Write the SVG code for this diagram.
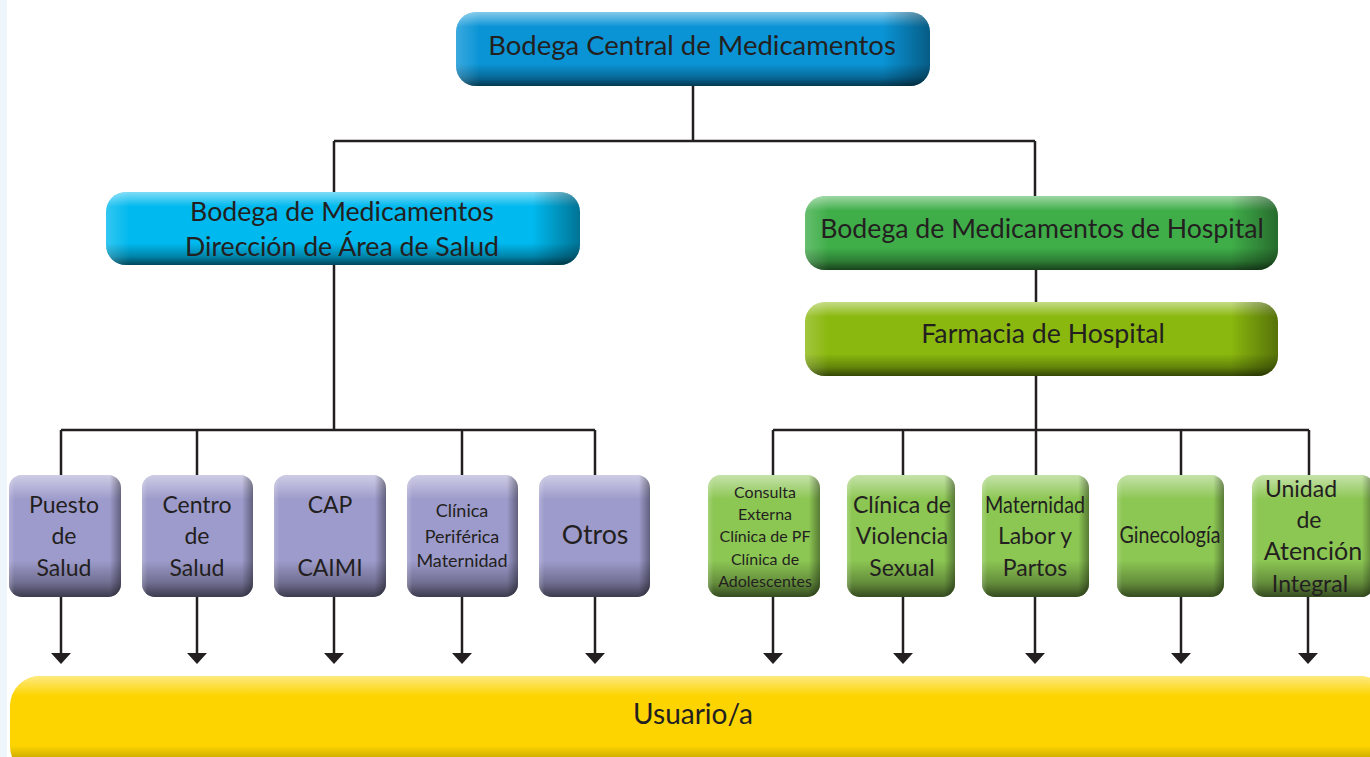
<svg xmlns="http://www.w3.org/2000/svg" width="1370" height="757" viewBox="0 0 1370 757">
<defs>
<style>
text{font-family:Lato,"Open Sans","Liberation Sans",sans-serif;fill:#231f20;text-anchor:middle}
.big{font-size:26.7px}
.mid{font-size:23px}
.sm{font-size:18px}
.xs{font-size:16px}
.conn{stroke:#231f20;stroke-width:2.5;fill:none}
.sv{fill:url(#gV)}
.sh{fill:url(#gH)}
</style>
<linearGradient id="gV" x1="0" y1="0" x2="0" y2="1">
<stop offset="0" stop-color="#fff" stop-opacity="0.5"/>
<stop offset="0.2" stop-color="#fff" stop-opacity="0"/>
<stop offset="0.7" stop-color="#000" stop-opacity="0"/>
<stop offset="0.88" stop-color="#000" stop-opacity="0.28"/>
<stop offset="1" stop-color="#000" stop-opacity="0.62"/>
</linearGradient>
<linearGradient id="gH" x1="0" y1="0" x2="1" y2="0">
<stop offset="0" stop-color="#fff" stop-opacity="0.2"/>
<stop offset="0.05" stop-color="#fff" stop-opacity="0"/>
<stop offset="0.9" stop-color="#000" stop-opacity="0"/>
<stop offset="1" stop-color="#000" stop-opacity="0.38"/>
</linearGradient>
<marker id="arr" markerUnits="userSpaceOnUse" markerWidth="11" markerHeight="20" refX="0" refY="10" orient="auto" viewBox="0 0 11 20">
<path d="M0,0 L11,10 L0,20 Z" fill="#231f20"/>
</marker>
</defs>
<rect width="1370" height="757" fill="#fff"/>
<rect width="7" height="757" fill="#eef6fc"/>

<g id="connectors">
<path class="conn" d="M693,86 V141 M334,141 H1035 M334,141 V192 M1035,141 V197"/>
<path class="conn" d="M334,265 V430 M61,430 H595 M61,430 V475 M197,430 V475 M462,430 V475 M595,430 V475"/>
<path class="conn" d="M1036,270 V302 M1036,376 V475 M773,430 H1309 M773,430 V475 M903,430 V475 M1181,430 V475 M1309,430 V475"/>
<g class="conn" marker-end="url(#arr)">
<path d="M61,597 V653"/>
<path d="M197,597 V653"/>
<path d="M334,597 V653"/>
<path d="M462,597 V653"/>
<path d="M595,597 V653"/>
<path d="M773,597 V653"/>
<path d="M903,597 V653"/>
<path d="M1035,597 V653"/>
<path d="M1181,597 V653"/>
<path d="M1308,597 V653"/>
</g>
</g>

<g id="n-central">
<rect x="456" y="12" width="474" height="74" rx="20" fill="#0a94d6"/>
<rect x="456" y="12" width="474" height="74" rx="20" class="sv"/>
<rect x="456" y="12" width="474" height="74" rx="20" class="sh"/>
<text style="font-size:27.5px" x="692" y="55">Bodega Central de Medicamentos</text>
</g>

<g id="n-das">
<rect x="106" y="192" width="474" height="73" rx="20" fill="#00b9ee"/>
<rect x="106" y="192" width="474" height="73" rx="20" class="sv"/>
<rect x="106" y="192" width="474" height="73" rx="20" class="sh"/>
<text class="big" x="342" y="221">Bodega de Medicamentos</text>
<text class="big" x="342" y="256">Dirección de Área de Salud</text>
</g>

<g id="n-bodhosp">
<rect x="805" y="196" width="473" height="74" rx="20" fill="#3fae49"/>
<rect x="805" y="196" width="473" height="74" rx="20" class="sv"/>
<rect x="805" y="196" width="473" height="74" rx="20" class="sh"/>
<text class="big" x="1042" y="238">Bodega de Medicamentos de Hospital</text>
</g>

<g id="n-farmacia">
<rect x="805" y="302" width="473" height="74" rx="20" fill="#8ab80e"/>
<rect x="805" y="302" width="473" height="74" rx="20" class="sv"/>
<rect x="805" y="302" width="473" height="74" rx="20" class="sh"/>
<text class="big" x="1043" y="343">Farmacia de Hospital</text>
</g>

<g id="n-puesto">
<rect x="9" y="475" width="112" height="122" rx="13" fill="#9d9bcb"/>
<rect x="9" y="475" width="112" height="122" rx="13" class="sv"/>
<rect x="9" y="475" width="112" height="122" rx="13" class="sh"/>
<text class="mid" x="64" y="513">Puesto</text>
<text class="mid" x="64" y="544">de</text>
<text class="mid" x="64" y="576">Salud</text>
</g>

<g id="n-centro">
<rect x="142" y="475" width="111" height="122" rx="13" fill="#9d9bcb"/>
<rect x="142" y="475" width="111" height="122" rx="13" class="sv"/>
<rect x="142" y="475" width="111" height="122" rx="13" class="sh"/>
<text class="mid" x="197" y="513">Centro</text>
<text class="mid" x="197" y="544">de</text>
<text class="mid" x="197" y="576">Salud</text>
</g>

<g id="n-cap">
<rect x="274" y="475" width="112" height="122" rx="13" fill="#9d9bcb"/>
<rect x="274" y="475" width="112" height="122" rx="13" class="sv"/>
<rect x="274" y="475" width="112" height="122" rx="13" class="sh"/>
<text class="mid" x="330" y="513">CAP</text>
<text class="mid" x="330" y="576">CAIMI</text>
</g>

<g id="n-clinica">
<rect x="407" y="475" width="111" height="122" rx="13" fill="#9d9bcb"/>
<rect x="407" y="475" width="111" height="122" rx="13" class="sv"/>
<rect x="407" y="475" width="111" height="122" rx="13" class="sh"/>
<text class="sm" x="462" y="517">Clínica</text>
<text class="sm" x="462" y="543">Periférica</text>
<text class="sm" x="462" y="567">Maternidad</text>
</g>

<g id="n-otros">
<rect x="539" y="475" width="111" height="122" rx="13" fill="#9d9bcb"/>
<rect x="539" y="475" width="111" height="122" rx="13" class="sv"/>
<rect x="539" y="475" width="111" height="122" rx="13" class="sh"/>
<text class="big" x="595" y="544">Otros</text>
</g>

<g id="n-consulta">
<rect x="708" y="475" width="112" height="122" rx="13" fill="#8cc653"/>
<rect x="708" y="475" width="112" height="122" rx="13" class="sv"/>
<rect x="708" y="475" width="112" height="122" rx="13" class="sh"/>
<text class="xs" x="765" y="498">Consulta</text>
<text class="xs" x="765" y="520">Externa</text>
<text class="xs" x="765" y="542">Clínica de PF</text>
<text class="xs" x="765" y="565">Clínica de</text>
<text class="xs" x="765" y="587">Adolescentes</text>
</g>

<g id="n-violencia">
<rect x="847" y="475" width="108" height="122" rx="13" fill="#8cc653"/>
<rect x="847" y="475" width="108" height="122" rx="13" class="sv"/>
<rect x="847" y="475" width="108" height="122" rx="13" class="sh"/>
<text class="mid" x="902" y="513">Clínica de</text>
<text class="mid" x="902" y="544">Violencia</text>
<text class="mid" x="902" y="576">Sexual</text>
</g>

<g id="n-maternidad">
<rect x="982" y="475" width="107" height="122" rx="13" fill="#8cc653"/>
<rect x="982" y="475" width="107" height="122" rx="13" class="sv"/>
<rect x="982" y="475" width="107" height="122" rx="13" class="sh"/>
<text style="font-size:24px" x="1035" y="513" textLength="100" lengthAdjust="spacingAndGlyphs">Maternidad</text>
<text class="mid" x="1035" y="544">Labor y</text>
<text class="mid" x="1035" y="576">Partos</text>
</g>

<g id="n-gineco">
<rect x="1117" y="475" width="107" height="122" rx="13" fill="#8cc653"/>
<rect x="1117" y="475" width="107" height="122" rx="13" class="sv"/>
<rect x="1117" y="475" width="107" height="122" rx="13" class="sh"/>
<text style="font-size:24px" x="1170" y="543" textLength="101" lengthAdjust="spacingAndGlyphs">Ginecología</text>
</g>

<g id="n-unidad">
<rect x="1252" y="475" width="122" height="122" rx="13" fill="#8cc653"/>
<rect x="1252" y="475" width="122" height="122" rx="13" class="sv"/>
<rect x="1252" y="475" width="122" height="122" rx="13" class="sh"/>
<text class="mid" x="1301" y="497">Unidad</text>
<text class="mid" x="1309" y="528">de</text>
<text style="font-size:25px" x="1313" y="560">Atención</text>
<text class="mid" x="1310" y="592">Integral</text>
</g>

<g id="n-usuario">
<rect x="10" y="676" width="1380" height="100" rx="30" fill="#fdd400"/>
<rect x="10" y="676" width="1380" height="100" rx="30" class="sv"/>
<text style="font-size:28px" x="693" y="724">Usuario/a</text>
</g>
</svg>
